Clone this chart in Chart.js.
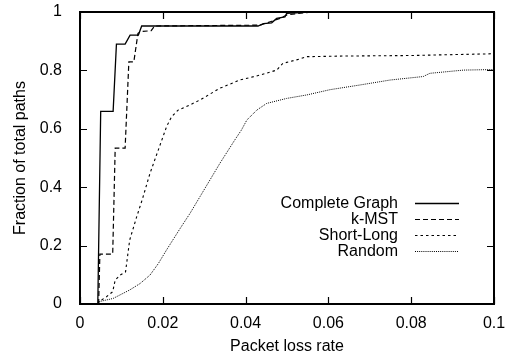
<!DOCTYPE html>
<html>
<head>
<meta charset="utf-8">
<script src="https://cdn.jsdelivr.net/npm/chart.js@4.4.1/dist/chart.umd.min.js"></script>
<style>
html,body{margin:0;padding:0;background:#fff;}
canvas{display:block;}
</style>
</head>
<body>
<canvas id="c" width="510" height="358"></canvas>
<script>
// ---- data ----
const seriesNames = ['Complete Graph', 'k-MST', 'Short-Long', 'Random'];

const completeX = [0.0043, 0.005, 0.008, 0.0088, 0.0109, 0.0121, 0.0141, 0.0149, 0.043, 0.0443, 0.0463, 0.0475, 0.0495, 0.0499, 0.0523, 0.055, 0.1];
const completeY = [0, 0.66, 0.66, 0.89, 0.89, 0.921, 0.921, 0.952, 0.952, 0.96, 0.963, 0.978, 0.983, 0.995, 0.997, 1, 1];

const kmstX = [0.0045, 0.0048, 0.0079, 0.0085, 0.0109, 0.0118, 0.013, 0.014, 0.0148, 0.0172, 0.018, 0.0435, 0.0467, 0.0483, 0.05, 0.0527, 0.056, 0.1];
const kmstY = [0, 0.171, 0.171, 0.534, 0.534, 0.829, 0.829, 0.927, 0.933, 0.936, 0.952, 0.955, 0.97, 0.978, 0.99, 0.995, 1, 1];

const shortLongX = [0.0044, 0.0046, 0.0064, 0.0079, 0.0085, 0.0097, 0.011, 0.012, 0.0137, 0.015, 0.0169, 0.0189, 0.0209, 0.0221, 0.0237, 0.0266, 0.029, 0.0338, 0.0386, 0.0435, 0.0475, 0.049, 0.0523, 0.0548, 0.0628, 0.08, 0.1];
const shortLongY = [0, 0.008, 0.025, 0.042, 0.082, 0.099, 0.11, 0.219, 0.299, 0.356, 0.447, 0.527, 0.607, 0.641, 0.664, 0.682, 0.699, 0.739, 0.767, 0.784, 0.801, 0.824, 0.836, 0.847, 0.849, 0.851, 0.857];

const randomX = [0.0044, 0.0046, 0.008, 0.012, 0.0145, 0.0169, 0.0189, 0.0209, 0.0242, 0.0266, 0.029, 0.0338, 0.0374, 0.039, 0.0403, 0.0427, 0.0451, 0.0499, 0.0548, 0.0604, 0.0676, 0.0749, 0.0829, 0.0845, 0.0926, 0.1];
const randomY = [0, 0.008, 0.019, 0.048, 0.07, 0.099, 0.138, 0.185, 0.259, 0.311, 0.368, 0.482, 0.562, 0.596, 0.63, 0.664, 0.687, 0.704, 0.716, 0.734, 0.75, 0.767, 0.779, 0.79, 0.801, 0.803];

const xTickValues = [0, 0.02, 0.04, 0.06, 0.08, 0.1];
const xTickLabels = ['0', '0.02', '0.04', '0.06', '0.08', '0.1'];
const yTickValues = [0, 0.2, 0.4, 0.6, 0.8, 1];
const yTickLabels = ['0', '0.2', '0.4', '0.6', '0.8', '1'];

const xTitle = 'Packet loss rate';
const yTitle = 'Fraction of total paths';

// ---- chart ----
const FONT = "'Liberation Sans', Arial, Helvetica, sans-serif";
const toPts = (xs, ys) => xs.map((x, i) => ({x: x, y: ys[i]}));
const styles = [
  {dash: [], width: 1.3},
  {dash: [5, 3], width: 1.2},
  {dash: [2.5, 3], width: 1.1},
  {dash: [1, 1.1], width: 1.0}
];
const seriesData = [
  toPts(completeX, completeY),
  toPts(kmstX, kmstY),
  toPts(shortLongX, shortLongY),
  toPts(randomX, randomY)
];

const framePlugin = {
  id: 'frame',
  afterDatasetsDraw(chart) {
    const ctx = chart.ctx;
    const a = chart.chartArea;
    const xs = chart.scales.x, ys = chart.scales.y;
    ctx.save();
    ctx.strokeStyle = '#000';
    ctx.lineWidth = 1.2;
    const tl = 7;
    ctx.beginPath();
    xTickValues.forEach(v => {
      const px = Math.round(xs.getPixelForValue(v)) + 0.5;
      ctx.moveTo(px, a.bottom); ctx.lineTo(px, a.bottom - tl);
      ctx.moveTo(px, a.top); ctx.lineTo(px, a.top + tl);
    });
    yTickValues.forEach(v => {
      const py = Math.round(ys.getPixelForValue(v)) + 0.5;
      ctx.moveTo(a.left, py); ctx.lineTo(a.left + tl, py);
      ctx.moveTo(a.right, py); ctx.lineTo(a.right - tl, py);
    });
    ctx.stroke();
    ctx.lineWidth = 2;
    ctx.strokeRect(a.left, a.top, a.right - a.left, a.bottom - a.top);
    // legend
    const lineR = a.right - 35, lineL = lineR - 44, textR = lineL - 17;
    const row0 = a.top + 190.7, rowH = 16.1;
    ctx.font = '16px ' + FONT;
    ctx.fillStyle = '#000';
    ctx.textAlign = 'right';
    ctx.textBaseline = 'middle';
    chart.data.datasets.forEach((ds, i) => {
      const y = row0 + i * rowH;
      ctx.fillText(ds.label, textR, y + 0.5);
      ctx.beginPath();
      ctx.setLineDash(ds.borderDash || []);
      ctx.lineWidth = ds.borderWidth;
      ctx.moveTo(lineL, Math.round(y) + 0.5);
      ctx.lineTo(lineR, Math.round(y) + 0.5);
      ctx.stroke();
      ctx.setLineDash([]);
    });
    ctx.restore();
  }
};

new Chart(document.getElementById('c'), {
  type: 'line',
  data: {
    datasets: seriesNames.map((name, i) => ({
      label: name,
      data: seriesData[i],
      borderColor: '#000',
      borderWidth: styles[i].width,
      borderDash: styles[i].dash,
      pointRadius: 0,
      tension: 0,
      fill: false
    }))
  },
  options: {
    responsive: false,
    animation: false,
    devicePixelRatio: 1,
    layout: {padding: {left: 0, right: 16, top: 12, bottom: 0}},
    plugins: {legend: {display: false}, tooltip: {enabled: false}},
    scales: {
      x: {
        type: 'linear',
        min: 0, max: 0.1,
        afterBuildTicks: s => { s.ticks = xTickValues.map(v => ({value: v})); },
        afterFit: s => { s.height = 54; s.paddingLeft = 0; s.paddingRight = 0; },
        ticks: {
          color: '#000',
          font: {family: FONT, size: 16},
          padding: 2,
          maxRotation: 0,
          callback: (v, i) => xTickLabels[i]
        },
        grid: {display: false},
        border: {display: false},
        title: {display: true, text: xTitle, color: '#000', font: {family: FONT, size: 16}, padding: {top: 0, bottom: 2}}
      },
      y: {
        type: 'linear',
        min: 0, max: 1,
        afterBuildTicks: s => { s.ticks = yTickValues.map(v => ({value: v})); },
        afterFit: s => { s.width = 80; s.paddingTop = 0; s.paddingBottom = 0; },
        ticks: {
          color: '#000',
          font: {family: FONT, size: 16},
          padding: 10,
          callback: (v, i) => yTickLabels[i]
        },
        grid: {display: false},
        border: {display: false},
        title: {display: true, text: yTitle, color: '#000', font: {family: FONT, size: 16}, padding: {top: 11, bottom: 0}}
      }
    }
  },
  plugins: [framePlugin]
});
</script>
</body>
</html>
